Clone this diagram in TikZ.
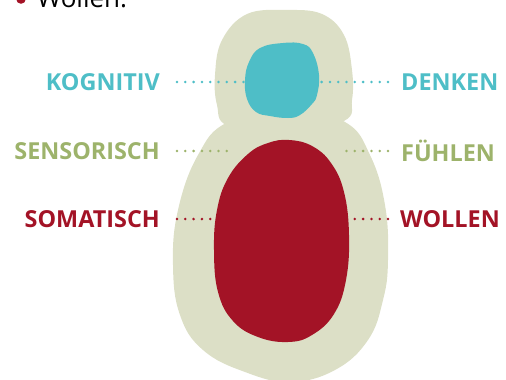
\documentclass[tikz,border=0pt]{standalone}
\usepackage{fontspec}
\setmainfont{Open Sans}
\definecolor{beige}{HTML}{DCDFC6}
\definecolor{cyanc}{HTML}{4EBEC7}
\definecolor{greenc}{HTML}{9DB36B}
\definecolor{redc}{HTML}{A31326}
\tikzset{
  lbl/.style={font=\fontsize{23.4}{26}\selectfont\bfseries, inner sep=0pt},
  dotline/.style={line width=2.8pt, line cap=round, dash pattern=on 0pt off 8.3pt},
}
\begin{document}
\begin{tikzpicture}[x=1pt,y=-1pt]
\useasboundingbox (0,0) rectangle (506,380);
\clip (0,0) rectangle (506,380);
% top cut-off bullet line
\fill[redc] (21,-1) circle (4.8);
\node[anchor=base west, inner sep=0pt, font=\fontsize{26}{30}\selectfont] (wol) at (37,8) {Wollen.};
% body (beige)
\fill[beige] plot[smooth cycle, tension=0.7] coordinates {
  (290,108) (345,122) (370,155) (385,205) (388,260) (383,300) (368,340)
  (335,370) (290,382) (245,372) (203,350) (180,315) (173,265) (178,210)
  (198,155) (228,122)};
% head (beige)
\fill[beige] plot[smooth cycle, tension=0.65] coordinates {
  (287,10) (322,14) (344,35) (352,70) (352,100) (344,121) (285,136) (228,126)
  (217,105) (215,75) (222,40) (247,14)};
% cyan blob
\fill[cyanc] plot[smooth cycle, tension=0.7] coordinates {
  (283,43) (303,44) (313,53) (319,75) (317,95) (312,104) (300,115) (288,118)
  (270,116) (256,112) (247,99) (245,80) (249,62) (260,48)};
% red blob
\fill[redc] plot[smooth cycle, tension=0.7] coordinates {
  (289,140) (312,146) (331,163) (344,192) (349,235) (346,280) (334,314)
  (312,335) (288,342) (258,337) (233,321) (218,292) (214,250) (217,210)
  (228,178) (248,154) (268,143)};
% labels
\node[lbl, text=cyanc, anchor=east] (kog) at (160,82) {KOGNITIV};
\node[lbl, text=cyanc, anchor=west] (den) at (401,82) {DENKEN};
\node[lbl, text=greenc, anchor=east] (sen) at (160,151) {SENSORISCH};
\node[lbl, text=greenc, anchor=west] (fue) at (401,151) {FÜHLEN};
\node[lbl, text=redc, anchor=east] (som) at (160,219) {SOMATISCH};
\node[lbl, text=redc, anchor=west] (wll) at (400,219) {WOLLEN};
% connector ends
\coordinate (kogE) at (247,82);
\coordinate (denE) at (320,82);
\coordinate (senE) at (227,151);
\coordinate (fueE) at (346,151);
\coordinate (somE) at (213,219);
\coordinate (wllE) at (353,219);
\draw[dotline, cyanc] ([xshift=17pt]kog.east) -- (kogE);
\draw[dotline, cyanc] ([xshift=-13pt]den.west) -- (denE);
\draw[dotline, greenc] ([xshift=17pt]sen.east) -- (senE);
\draw[dotline, greenc] ([xshift=-13pt]fue.west) -- (fueE);
\draw[dotline, redc] ([xshift=17pt]som.east) -- (somE);
\draw[dotline, redc] ([xshift=-12pt]wll.west) -- (wllE);
\end{tikzpicture}
\end{document}
